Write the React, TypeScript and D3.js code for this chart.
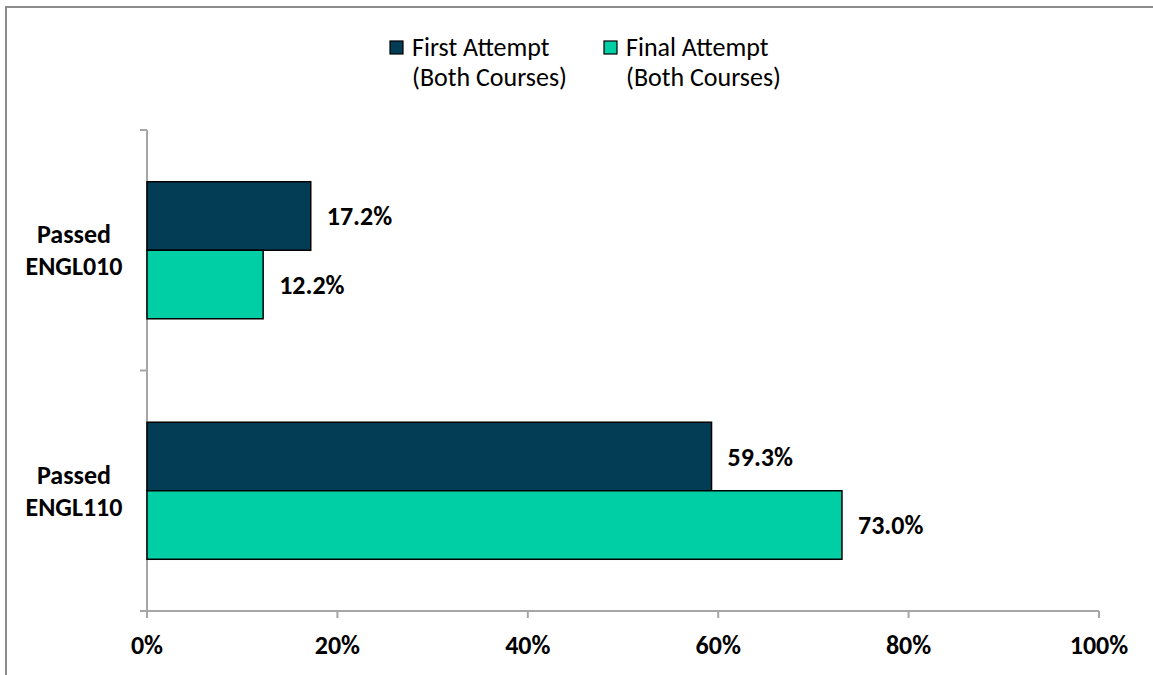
import React, { useEffect, useRef } from 'react';
import * as d3 from 'd3';

const categories = ['Passed\nENGL010', 'Passed\nENGL110'];
const seriesNames = ['First Attempt\n(Both Courses)', 'Final Attempt\n(Both Courses)'];
const seriesColors = ['#033c55', '#00cfa6'];
const firstAttempt = [17.2, 59.3];
const finalAttempt = [12.2, 73.0];
const xTicks = [0, 20, 40, 60, 80, 100];

const W = 1153;
const H = 675;
const FONT = "Carlito, Calibri, Lato, sans-serif";

const App: React.FC = () => {
  const svgRef = useRef<SVGSVGElement>(null);

  useEffect(() => {
    if (!svgRef.current) return;
    const svg = d3.select(svgRef.current);
    svg.selectAll('*').remove();

    // outer frame (cropped)
    svg.append('path')
      .attr('d', `M6,${H} V7 H${W}`)
      .attr('fill', 'none')
      .attr('stroke', '#8c8c8c')
      .attr('stroke-width', 2);

    const x = d3.scaleLinear().domain([0, 100]).range([147, 1099]);
    const y = d3.scaleBand<number>().domain([0, 1]).range([130, 611]);
    const inner = d3.scaleBand<number>().domain([0, 1]).range([0, y.bandwidth()]).paddingOuter(0.755).paddingInner(0);

    const series = [firstAttempt, finalAttempt];

    // axes
    const axisColor = '#a6a6a6';
    svg.append('line')
      .attr('x1', 140).attr('x2', x(100))
      .attr('y1', 611).attr('y2', 611)
      .attr('stroke', axisColor).attr('stroke-width', 2);
    svg.append('line')
      .attr('x1', 147).attr('x2', 147)
      .attr('y1', 130).attr('y2', 611)
      .attr('stroke', axisColor).attr('stroke-width', 2);

    xTicks.forEach(t => {
      svg.append('line')
        .attr('x1', x(t)).attr('x2', x(t))
        .attr('y1', 611).attr('y2', 618)
        .attr('stroke', axisColor).attr('stroke-width', 2);
      svg.append('text')
        .attr('x', x(t)).attr('y', 645)
        .attr('dy', '0.35em')
        .attr('text-anchor', 'middle')
        .attr('font-family', FONT)
        .attr('font-weight', 'bold')
        .attr('font-size', 26)
        .attr('fill', '#000')
        .text(`${t}%`);
    });

    [130, 130 + y.bandwidth(), 611].forEach(v => {
      svg.append('line')
        .attr('x1', 140).attr('x2', 147)
        .attr('y1', v).attr('y2', v)
        .attr('stroke', axisColor).attr('stroke-width', 2);
    });

    // bars
    categories.forEach((cat, ci) => {
      const y0 = y(ci)!;
      series.forEach((vals, si) => {
        const by = y0 + inner(si)!;
        const bh = inner.bandwidth();
        svg.append('rect')
          .attr('x', x(0))
          .attr('y', by)
          .attr('width', x(vals[ci]) - x(0))
          .attr('height', bh)
          .attr('fill', seriesColors[si])
          .attr('stroke', '#000')
          .attr('stroke-width', 1.5);
        svg.append('text')
          .attr('x', x(vals[ci]) + 16)
          .attr('y', by + bh / 2)
          .attr('dy', '0.35em')
          .attr('font-family', FONT)
          .attr('font-weight', 'bold')
          .attr('font-size', 26)
          .attr('fill', '#000')
          .text(`${vals[ci].toFixed(1)}%`);
      });

      const lines = cat.split('\n');
      const cy = y0 + y.bandwidth() / 2;
      lines.forEach((l, li) => {
        svg.append('text')
          .attr('x', 74)
          .attr('y', cy + (li - 0.5) * 32)
          .attr('dy', '0.35em')
          .attr('text-anchor', 'middle')
          .attr('font-family', FONT)
          .attr('font-weight', 'bold')
          .attr('font-size', 26)
          .attr('fill', '#000')
          .text(l);
      });
    });

    // legend
    const legendX = [390, 604];
    seriesNames.forEach((name, si) => {
      svg.append('rect')
        .attr('x', legendX[si]).attr('y', 41)
        .attr('width', 13).attr('height', 13)
        .attr('fill', seriesColors[si])
        .attr('stroke', '#000').attr('stroke-width', 1.2);
      name.split('\n').forEach((l, li) => {
        svg.append('text')
          .attr('x', legendX[si] + 22)
          .attr('y', 56 + li * 30)
          .attr('font-family', FONT)
          .attr('font-size', 26)
          .attr('fill', '#000')
          .text(l);
      });
    });
  }, []);

  return (
    <svg ref={svgRef} width={W} height={H} style={{ position: 'absolute', left: 0, top: 0, background: '#fff' }} />
  );
};

export default App;
